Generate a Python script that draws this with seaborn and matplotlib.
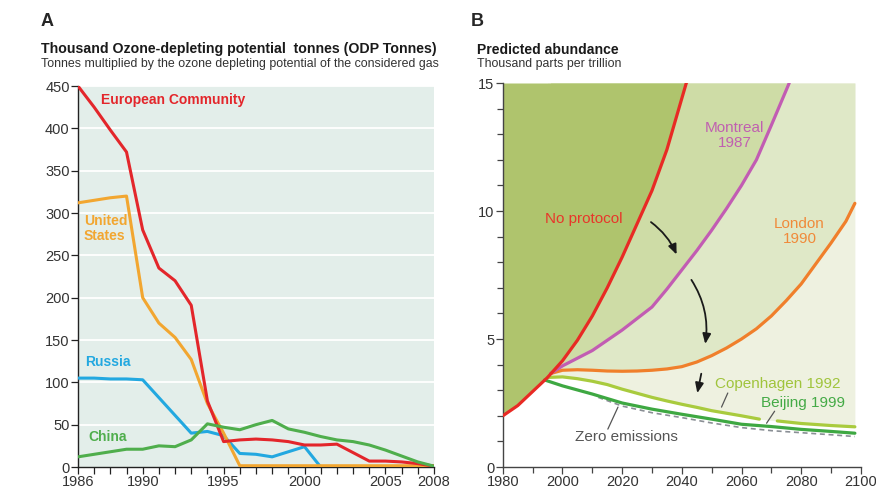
import matplotlib
matplotlib.use("Agg")
import matplotlib.pyplot as plt
import numpy as np
import pandas as pd
import seaborn as sns

# ---- panel A : ODP tonnes by country ----
years_a = list(range(1986, 2009))
eu_vals = [450, 425, 398, 372, 280, 235, 220, 191, 78, 30, 32, 33, 32, 30, 26, 26, 27, 17, 7, 7, 6, 4, 1]
us_vals = [312, 315, 318, 320, 200, 170, 153, 127, 75, 40, 1.5, 1.5, 1.5, 1.5, 1.5, 1.5, 1.5, 1.5, 1.5, 1.5, 1.5, 1.5, 1.5]
ru_vals = [105, 105, 104, 104, 103, 82, 61, 40, 42, 37, 16, 15, 12, 18, 24, 0, 0, 0, 0, 0, 0, 0, 0]
cn_vals = [12, 15, 18, 21, 21, 25, 24, 32, 51, 47, 44, 50, 55, 45, 41, 36, 32, 30, 26, 20, 13, 6, 1]
countries = ["Russia", "United States", "European Community", "China"]
country_colors = {"European Community": "#e3262b", "United States": "#f2a630",
                  "Russia": "#22a8e0", "China": "#4fae4c"}

# ---- panel B : predicted abundance ----
np_years = [1980, 1985, 1990, 1995, 2000, 2005, 2010, 2015, 2020, 2025, 2030, 2035, 2042]
np_vals = [2.0, 2.4, 2.95, 3.5, 4.15, 4.95, 5.9, 7.0, 8.2, 9.5, 10.8, 12.4, 15.2]
mo_years = [1996, 2000, 2005, 2010, 2015, 2020, 2025, 2030, 2035, 2040, 2045, 2050, 2055, 2060, 2065, 2070, 2076]
mo_vals = [3.65, 3.95, 4.25, 4.55, 4.95, 5.35, 5.8, 6.25, 6.95, 7.7, 8.45, 9.25, 10.1, 11.0, 12.0, 13.35, 15.0]
lo_years = [1996, 2000, 2005, 2010, 2015, 2020, 2025, 2030, 2035, 2040, 2045, 2050, 2055, 2060,
            2065, 2070, 2075, 2080, 2085, 2090, 2095, 2098]
lo_vals = [3.65, 3.78, 3.8, 3.78, 3.75, 3.74, 3.75, 3.78, 3.83, 3.92, 4.1, 4.35, 4.65, 5.0,
           5.4, 5.9, 6.5, 7.15, 7.95, 8.75, 9.6, 10.3]
co_years = [1995, 2000, 2005, 2010, 2015, 2020, 2025, 2030, 2035, 2040, 2045, 2050, 2055, 2060,
            2066, 2072, 2080, 2090, 2098]
co_vals = [3.5, 3.52, 3.45, 3.35, 3.22, 3.04, 2.88, 2.72, 2.58, 2.45, 2.33, 2.2, 2.1, 2.0,
           1.87, 1.8, 1.7, 1.62, 1.57]
co_gap = (2066, 2072)
be_years = [1994, 2000, 2010, 2020, 2030, 2040, 2050, 2060, 2070, 2080, 2090, 2098]
be_vals = [3.4, 3.17, 2.85, 2.5, 2.26, 2.06, 1.87, 1.67, 1.58, 1.47, 1.39, 1.32]
ze_years = [2012, 2020, 2030, 2040, 2050, 2060, 2070, 2080, 2090, 2098]
ze_vals = [2.72, 2.38, 2.12, 1.93, 1.72, 1.54, 1.42, 1.34, 1.26, 1.19]

sns.set_style("ticks")
plt.rcParams["font.family"] = ["Liberation Sans", "DejaVu Sans"]

fig = plt.figure(figsize=(8.76, 4.92), dpi=100)
axA = fig.add_axes([0.089, 0.0508, 0.4064, 0.7744])
axB = fig.add_axes([0.574, 0.0508, 0.4087, 0.7805])

# ---------- A ----------
df = pd.DataFrame({
    "year": years_a * 4,
    "value": ru_vals + us_vals + eu_vals + cn_vals,
    "country": sum([[c] * len(years_a) for c in countries], []),
})
axA.set_facecolor("#e3eeea")
for v in range(50, 451, 50):
    axA.axhline(v, color="white", lw=1.3, zorder=0.5)
sns.lineplot(data=df, x="year", y="value", hue="country", hue_order=countries,
             palette=country_colors, lw=2.2, legend=False, ax=axA, zorder=3)
axA.set_xlim(1986, 2008)
axA.set_ylim(0, 450)
axA.set_yticks(range(0, 451, 50))
axA.set_xticks([1986, 1990, 1995, 2000, 2005, 2008])
axA.set_xticks(years_a, minor=True)
axA.set_xlabel("")
axA.set_ylabel("")
for s in ["top", "right"]:
    axA.spines[s].set_visible(False)
for s in ["left", "bottom"]:
    axA.spines[s].set_color("#222222")
    axA.spines[s].set_linewidth(1.0)
axA.tick_params(axis="both", which="both", length=5, width=0.9, color="#222222",
                labelsize=10.5, labelcolor="#333333", pad=1)

lab_kw = dict(fontsize=10, fontweight="bold", ha="left", va="center")
axA.text(1987.4, 433, "European Community", color=country_colors["European Community"], **lab_kw)
axA.text(1986.35, 282, "United\nStates", color=country_colors["United States"], linespacing=1.05, **lab_kw)
axA.text(1986.45, 124, "Russia", color=country_colors["Russia"], **lab_kw)
axA.text(1986.65, 36, "China", color=country_colors["China"], **lab_kw)

fig.text(41 / 876, 1 - 26 / 492, "A", fontsize=13, fontweight="bold", va="baseline")
fig.text(41 / 876, 1 - 53.5 / 492, "Thousand Ozone-depleting potential  tonnes (ODP Tonnes)",
         fontsize=10.2, fontweight="bold", va="baseline", color="#1a1a1a")
fig.text(41 / 876, 1 - 67 / 492, "Tonnes multiplied by the ozone depleting potential of the considered gas",
         fontsize=8.9, va="baseline", color="#333333")

# ---------- B ----------
axB.set_facecolor("white")
axB.fill_between(co_years, co_vals, 15, color="#eef1e0", lw=0, zorder=0.2)
axB.fill_between(lo_years, lo_vals, 15, color="#dfe8c7", lw=0, zorder=0.3)
axB.fill_between(mo_years, mo_vals, 15, color="#cedca6", lw=0, zorder=0.4)
axB.fill_between(np_years, np_vals, 15, color="#afc46d", lw=0, zorder=0.5)

co_y = np.array(co_years)
co_v = np.array(co_vals)
m1 = co_y <= co_gap[0]
m2 = co_y >= co_gap[1]
sns.lineplot(x=ze_years, y=ze_vals, ax=axB, color="#8a8f95", lw=1.2, linestyle=(0, (3, 2.2)), zorder=2)
sns.lineplot(x=be_years, y=be_vals, ax=axB, color="#3ea842", lw=2.3, zorder=3)
sns.lineplot(x=co_y[m1], y=co_v[m1], ax=axB, color="#a9cb3e", lw=2.3, zorder=3)
sns.lineplot(x=co_y[m2], y=co_v[m2], ax=axB, color="#a9cb3e", lw=2.3, zorder=3)
sns.lineplot(x=lo_years, y=lo_vals, ax=axB, color="#f07f2b", lw=2.3, zorder=3)
sns.lineplot(x=mo_years, y=mo_vals, ax=axB, color="#c25cb3", lw=2.3, zorder=3)
sns.lineplot(x=np_years, y=np_vals, ax=axB, color="#e82a24", lw=2.3, zorder=4)

axB.set_xlim(1980, 2100)
axB.set_ylim(0, 15)
axB.set_xticks(range(1980, 2101, 20))
axB.set_xticks(range(1980, 2101, 10), minor=True)
axB.set_yticks([0, 5, 10, 15])
axB.set_yticks(range(0, 16), minor=True)
axB.set_xlabel("")
axB.set_ylabel("")
for s in ["top", "right"]:
    axB.spines[s].set_visible(False)
for s in ["left", "bottom"]:
    axB.spines[s].set_color("#444444")
    axB.spines[s].set_linewidth(1.0)
axB.tick_params(axis="both", which="major", length=5, width=0.9, color="#444444",
                labelsize=10.5, labelcolor="#333333", pad=1)
axB.tick_params(axis="both", which="minor", length=4, width=0.9, color="#444444")

bfs = 11
axB.text(2007, 9.67, "No protocol", color="#e8362a", fontsize=bfs, ha="center", va="center")
axB.text(2057.7, 12.95, "Montreal\n1987", color="#c060b0", fontsize=bfs, ha="center", va="center",
         linespacing=1.1)
axB.text(2079.4, 9.2, "London\n1990", color="#f08a3a", fontsize=bfs, ha="center", va="center",
         linespacing=1.1)
axB.text(2051, 3.24, "Copenhagen 1992", color="#a0c43c", fontsize=bfs, ha="left", va="center")
axB.text(2066.4, 2.5, "Beijing 1999", color="#44aa46", fontsize=bfs, ha="left", va="center")
axB.text(2004.2, 1.17, "Zero emissions", color="#555555", fontsize=bfs, ha="left", va="center")

lead = dict(color="#555555", lw=0.9, zorder=5)
axB.plot([2055.4, 2053.3], [2.89, 2.34], **lead)
axB.plot([2071.1, 2068.4], [2.18, 1.71], **lead)
axB.plot([2018.6, 2015.2], [2.34, 1.48], **lead)

arr = dict(arrowstyle="-|>,head_length=0.6,head_width=0.25", color="#1a1a1a", lw=1.3)
axB.annotate("", xy=(2038.6, 8.2), xytext=(2028.9, 9.63),
             arrowprops=dict(connectionstyle="arc3,rad=-0.15", **arr))
axB.annotate("", xy=(2047.7, 4.7), xytext=(2042.7, 7.4),
             arrowprops=dict(connectionstyle="arc3,rad=-0.2", **arr))
axB.annotate("", xy=(2045.0, 2.78), xytext=(2046.7, 3.75),
             arrowprops=dict(connectionstyle="arc3,rad=0", **arr))

fig.text(471 / 876, 1 - 26 / 492, "B", fontsize=13, fontweight="bold", va="baseline")
fig.text(477 / 876, 1 - 53.5 / 492, "Predicted abundance", fontsize=10.1, fontweight="bold",
         va="baseline", color="#1a1a1a")
fig.text(477 / 876, 1 - 67 / 492, "Thousand parts per trillion", fontsize=8.9, va="baseline",
         color="#333333")

fig.savefig("out.png", dpi=100)
